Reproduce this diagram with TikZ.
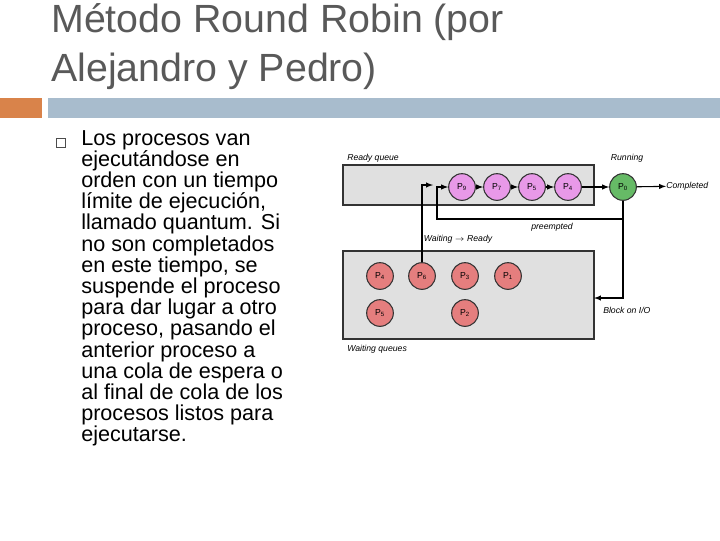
\documentclass[tikz,border=0pt]{standalone}
\usepackage{fontspec}
\setmainfont{Liberation Sans}
\definecolor{barblue}{HTML}{A8BCCD}
\definecolor{barorange}{HTML}{D9834A}
\begin{document}
\begin{tikzpicture}[x=0.75pt,y=-0.75pt,
 qbox/.style={draw=black!80,line width=1.3pt,fill=black!12},
 proc/.style={circle,draw=black!80,line width=0.8pt,minimum size=20pt,inner sep=0pt,font=\fontsize{6.5}{7}\selectfont},
 rq/.style={proc,fill=violet!45!magenta!40},
 wq/.style={proc,fill=red!45!white!90!black},
 rn/.style={proc,fill=green!55!black!60},
 lbl/.style={font=\itshape\fontsize{6.5}{7}\selectfont,inner sep=0pt},
 fl/.style={draw=black,line width=0.8pt,-latex}]
\useasboundingbox (0,0) rectangle (720,540);
\node[anchor=west,text=black!65,font=\fontsize{29.5}{34}\selectfont,inner sep=0pt] (t1) at (51,22) {Método Round Robin (por};
\node[anchor=west,text=black!65,font=\fontsize{29.5}{34}\selectfont,inner sep=0pt] (t2) at (51,71) {Alejandro y Pedro)};
\fill[barorange] (0,98) rectangle (42,118);
\fill[barblue] (48,98) rectangle (720,118);
\node[draw=black!70,minimum size=7pt,inner sep=0pt,line width=0.4pt] (bul) at (61,143) {};
\node[anchor=north west,align=left,font=\fontsize{16.2}{15.9}\selectfont,inner sep=0pt] (body) at (81,130) {Los procesos van\\ejecutándose en\\orden con un tiempo\\límite de ejecución,\\llamado quantum. Si\\no son completados\\en este tiempo, se\\suspende el proceso\\para dar lugar a otro\\proceso, pasando el\\anterior proceso a\\una cola de espera o\\al final de cola de los\\procesos listos para\\ejecutarse.};
\draw[qbox] (343,165) rectangle (594,205);
\draw[qbox] (343,251) rectangle (594,339);
\node[lbl,anchor=west] (lr) at (347,158) {Ready queue};
\node[lbl] (lrun) at (627,158) {Running};
\node[lbl,anchor=west] (lw) at (347,349) {Waiting queues};
\node[rq] (p9) at (462,187) {P\textsubscript{9}};
\node[rq] (p7) at (497,187) {P\textsubscript{7}};
\node[rq] (p5) at (532,187) {P\textsubscript{5}};
\node[rq] (p4r) at (568,187) {P\textsubscript{4}};
\node[rn] (p0) at (623,187) {P\textsubscript{0}};
\node[lbl,anchor=west] (comp) at (666,186) {Completed};
\node[wq] (w4) at (380,276) {P\textsubscript{4}};
\node[wq] (w6) at (422,276) {P\textsubscript{6}};
\node[wq] (w3) at (465,276) {P\textsubscript{3}};
\node[wq] (w1) at (508,276) {P\textsubscript{1}};
\node[wq] (w5) at (380,313) {P\textsubscript{5}};
\node[wq] (w2) at (465,313) {P\textsubscript{2}};
\draw[fl] (p9) -- (p7);
\draw[fl] (p7) -- (p5);
\draw[fl] (p5) -- (p4r);
\draw[fl] (p4r) -- (p0);
\draw[fl] (p0) -- (comp);
\coordinate (pa) at (437,219);
\draw[fl] (p0.south) |- (pa) |- (p9.west);
\node[lbl] (pre) at (552,227) {preempted};
\coordinate (wa) at (433,185);
\draw[fl] (w6.north) |- (wa);
\node[lbl] (wr) at (458,239) {Waiting $\rightarrow$ Ready};
\coordinate (ba) at (594,298);
\draw[fl] (p0.south) |- (ba);
\node[lbl,anchor=west] (bio) at (603,310) {Block on I/O};
\end{tikzpicture}
\end{document}
